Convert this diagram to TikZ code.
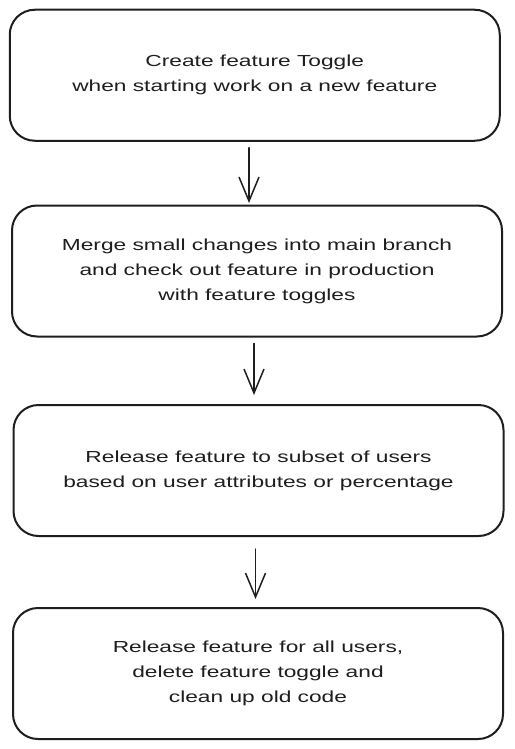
\documentclass[tikz,border=0pt]{standalone}
\usepackage{fontspec}
\setmainfont{Liberation Sans}[FakeStretch=1.42]
\usetikzlibrary{arrows.meta}
\definecolor{ink}{HTML}{1E1E1E}
\tikzset{
  stepbox/.style={draw=ink, line width=2pt, rectangle, rounded corners=25pt,
    minimum width=490pt, minimum height=131pt, inner sep=0pt, align=center,
    text=ink, font=\fontsize{16}{25}\selectfont},
  flow/.style={draw=ink, line width=1.5pt, line cap=round,
    -{Straight Barb[length=24pt,width=20pt,line width=1.5pt]}}
}
\begin{document}
\begin{tikzpicture}[x=1pt,y=-1pt]
\useasboundingbox[fill=white] (0,0) rectangle (514,749);
\node[stepbox] (b1) at (254.75,75.25) {Create feature Toggle\\when starting work on a new feature};
\node[stepbox] (b2) at (257,271) {Merge small changes into main branch\\and check out feature in production\\with feature toggles};
\node[stepbox] (b3) at (258.5,470.5) {Release feature to subset of users\\based on user attributes or percentage};
\node[stepbox] (b4) at (258,673.5) {Release feature for all users,\\delete feature toggle and\\clean up old code};
\draw[flow] ([xshift=-5.75pt,yshift=-6pt]b1.south) -- ([xshift=-8pt,yshift=1.5pt]b2.north);
\draw[flow] ([xshift=-3pt,yshift=-6pt]b2.south) -- ([xshift=-4.5pt,yshift=9pt]b3.north);
\draw[flow] ([xshift=-3pt,yshift=-12pt]b3.south) -- ([xshift=-2.5pt,yshift=8pt]b4.north);
\end{tikzpicture}
\end{document}
